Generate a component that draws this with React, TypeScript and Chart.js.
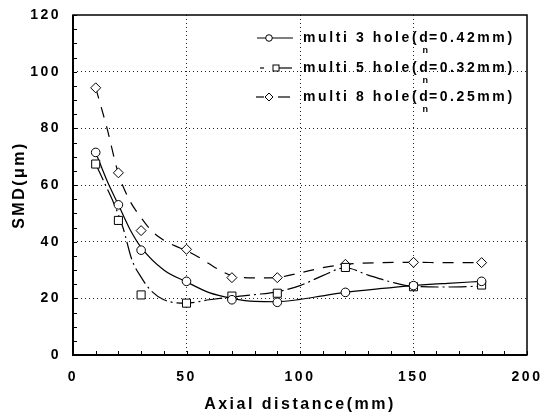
import React, { useEffect, useRef } from 'react';
import { Chart, registerables } from 'chart.js';

Chart.register(...registerables);

// Measured points (markers)
const xPoints = [10, 20, 30, 50, 70, 90, 120, 150, 180];
const hole3 = [71.5, 53, 37, 26, 19.5, 18.6, 22.1, 24.5, 26];
const hole5 = [67.4, 47.5, 21.2, 18.3, 20.8, 21.8, 30.9, 24.1, 24.7];
const hole8 = [94.3, 64.3, 43.9, 37.3, 27.3, 27.3, 32, 32.7, 32.6];

// Fitted curves
const fit3X = [10, 15, 20, 25, 30, 40, 50, 60, 70, 80, 90, 100, 110, 120, 135, 150, 165, 180];
const fit3Y = [71.5, 61.5, 53, 44.5, 38, 30, 25.8, 22, 20, 18.9, 18.8, 19.6, 20.9, 22.1, 23.4, 24.5, 25.3, 26];
const fit5X = [10, 14, 18, 22, 26, 30, 34, 40, 50, 60, 70, 80, 90, 100, 110, 120, 130, 140, 150, 165, 180];
const fit5Y = [67.4, 60.5, 53.5, 45, 33.5, 27.5, 23, 19.5, 18.3, 19.5, 20.5, 21.3, 22.3, 24.5, 28, 30.8, 28.2, 25.8, 24.2, 24, 24.3];
const fit8X = [10, 15, 20, 25, 30, 35, 40, 45, 50, 55, 60, 65, 70, 80, 90, 100, 110, 120, 135, 150, 165, 180];
const fit8Y = [94.3, 80, 64, 54.5, 48.5, 43.5, 40.5, 38.5, 36.8, 34.7, 32.2, 29.8, 28, 27.2, 27.4, 29, 30.8, 32, 32.6, 32.7, 32.6, 32.6];

const seriesNames = ['multi 3 hole(d_n=0.42mm)', 'multi 5 hole(d_n=0.32mm)', 'multi 8 hole(d_n=0.25mm)'];
const xTickLabels = [0, 50, 100, 150, 200];
const yTickLabels = [0, 20, 40, 60, 80, 100, 120];
const xGridValues = [50, 100, 150];
const yGridValues = [20, 40, 60, 80, 100];
const xMinorStep = 10;
const yMinorStep = 5;

const FONT = '"Liberation Sans", Arial, Helvetica, sans-serif';

const toXY = (xs: number[], ys: number[]) => xs.map((x, i) => ({ x, y: ys[i] }));

const spacingPlugin = {
  id: 'spacing',
  beforeDraw(chart: any) {
    (chart.ctx as any).letterSpacing = '2.5px';
  },
};

const framePlugin = {
  id: 'frame',
  afterDraw(chart: any) {
    const { ctx, chartArea: a, scales } = chart;
    ctx.save();
    (ctx as any).letterSpacing = '0px';
    ctx.strokeStyle = '#000';
    ctx.lineWidth = 1;
    ctx.setLineDash([]);
    ctx.beginPath();
    for (let v = scales.y.min; v <= scales.y.max; v += yMinorStep) {
      const y = Math.round(scales.y.getPixelForValue(v)) + 0.5;
      ctx.moveTo(a.left, y);
      ctx.lineTo(a.left + 4, y);
    }
    for (let v = scales.x.min; v <= scales.x.max; v += xMinorStep) {
      const x = Math.round(scales.x.getPixelForValue(v)) + 0.5;
      ctx.moveTo(x, a.bottom);
      ctx.lineTo(x, a.bottom - 4);
    }
    ctx.stroke();
    ctx.lineWidth = 1.5;
    ctx.strokeRect(a.left, a.top, a.right - a.left, a.bottom - a.top);
    ctx.lineWidth = 2;
    ctx.beginPath();
    ctx.moveTo(a.left, a.top);
    ctx.lineTo(a.left, a.bottom);
    ctx.lineTo(a.right, a.bottom);
    ctx.stroke();
    ctx.restore();
  },
};

const legendPlugin = {
  id: 'customLegend',
  afterDraw(chart: any) {
    const ctx = chart.ctx as CanvasRenderingContext2D;
    ctx.save();
    ctx.strokeStyle = '#000';
    ctx.fillStyle = '#000';
    ctx.lineWidth = 1.2;
    ctx.setLineDash([]);
    const rows = [38, 68, 97];
    const seg = (x1: number, x2: number, y: number) => {
      ctx.beginPath();
      ctx.moveTo(x1, y);
      ctx.lineTo(x2, y);
      ctx.stroke();
    };
    // row 1: solid + circle
    seg(257, 293, rows[0]);
    ctx.beginPath();
    ctx.arc(269, rows[0], 3.3, 0, Math.PI * 2);
    ctx.fillStyle = '#fff';
    ctx.fill();
    ctx.lineWidth = 1;
    ctx.stroke();
    // row 2: dash-dot + square
    ctx.lineWidth = 1.2;
    seg(260, 264, rows[1]);
    seg(279, 292, rows[1]);
    ctx.lineWidth = 1;
    ctx.fillStyle = '#fff';
    ctx.fillRect(273, rows[1] - 3, 6, 6);
    ctx.strokeRect(273, rows[1] - 3, 6, 6);
    // row 3: dashed + diamond
    ctx.lineWidth = 1.2;
    seg(256, 264, rows[2]);
    seg(278, 290, rows[2]);
    ctx.lineWidth = 1;
    ctx.beginPath();
    ctx.moveTo(269, rows[2] - 4);
    ctx.lineTo(273, rows[2]);
    ctx.lineTo(269, rows[2] + 4);
    ctx.lineTo(265, rows[2]);
    ctx.closePath();
    ctx.fillStyle = '#fff';
    ctx.fill();
    ctx.stroke();

    ctx.fillStyle = '#000';
    ctx.textBaseline = 'middle';
    ctx.textAlign = 'left';
    seriesNames.forEach((name, i) => {
      const [pre, post] = name.split('_n');
      const y = rows[i];
      (ctx as any).letterSpacing = '2.6px';
      ctx.font = `bold 14px ${FONT}`;
      ctx.fillText(pre, 303, y);
      const w = ctx.measureText(pre).width;
      ctx.fillText(post, 303 + w - 1.5, y);
      (ctx as any).letterSpacing = '0px';
      ctx.font = `bold 9px ${FONT}`;
      ctx.fillText('n', 303 + w - 8, y + 13);
    });
    ctx.restore();
  },
};

export default function App() {
  const ref = useRef<HTMLCanvasElement | null>(null);

  useEffect(() => {
    if (!ref.current) return;
    const markerBase = {
      type: 'line' as const,
      showLine: false,
      pointBackgroundColor: '#fff',
      pointBorderColor: '#000',
      pointBorderWidth: 1,
      order: 0,
    };
    const curveBase = {
      type: 'line' as const,
      borderColor: '#000',
      borderWidth: 1.2,
      pointRadius: 0,
      fill: false,
      cubicInterpolationMode: 'monotone' as const,
      order: 1,
    };
    const chart = new Chart(ref.current, {
      type: 'line',
      data: {
        datasets: [
          { ...markerBase, label: seriesNames[0], data: toXY(xPoints, hole3), pointStyle: 'circle', pointRadius: 4.3 },
          { ...markerBase, label: seriesNames[1], data: toXY(xPoints, hole5), pointStyle: 'rect', pointRadius: 5.7 },
          { ...markerBase, label: seriesNames[2], data: toXY(xPoints, hole8), pointStyle: 'rectRot', pointRadius: 5 },
          { ...curveBase, label: 'fit3', data: toXY(fit3X, fit3Y), borderDash: [] },
          { ...curveBase, label: 'fit5', data: toXY(fit5X, fit5Y), borderDash: [18, 4, 2, 4] },
          { ...curveBase, label: 'fit8', data: toXY(fit8X, fit8Y), borderDash: [11, 9] },
        ] as any,
      },
      options: {
        animation: false,
        responsive: false,
        layout: { autoPadding: false, padding: { left: 0, top: 15, right: 19, bottom: 0 } },
        plugins: { legend: { display: false }, tooltip: { enabled: false } },
        scales: {
          x: {
            type: 'linear',
            min: 0,
            max: 200,
            afterFit: (s: any) => {
              s.height = 62;
              s.paddingLeft = 0;
              s.paddingRight = 0;
            },
            ticks: {
              stepSize: xMinorStep,
              autoSkip: false,
              maxRotation: 0,
              padding: 14,
              color: '#000',
              font: { family: FONT, size: 14, weight: 'bold' },
              callback: (v: any) => (xTickLabels.includes(Number(v)) ? String(v) : ''),
            },
            grid: {
              color: (c: any) => (c.tick && xGridValues.includes(c.tick.value) ? '#222' : 'rgba(0,0,0,0)'),
              drawTicks: false,
              lineWidth: 1,
            },
            border: { display: false, dash: [1, 3] },
            title: {
              display: true,
              text: 'Axial distance(mm)',
              color: '#000',
              font: { family: FONT, size: 16, weight: 'bold' },
              padding: { top: 0, bottom: 3 },
            },
          },
          y: {
            type: 'linear',
            min: 0,
            max: 120,
            afterFit: (s: any) => {
              s.width = 73;
              s.paddingTop = 0;
              s.paddingBottom = 0;
            },
            ticks: {
              stepSize: yMinorStep,
              autoSkip: false,
              padding: 12,
              color: '#000',
              font: { family: FONT, size: 14, weight: 'bold' },
              callback: (v: any) => (yTickLabels.includes(Number(v)) ? String(v) : ''),
            },
            grid: {
              color: (c: any) => (c.tick && yGridValues.includes(c.tick.value) ? '#222' : 'rgba(0,0,0,0)'),
              drawTicks: false,
              lineWidth: 1,
            },
            border: { display: false, dash: [1, 3] },
            title: {
              display: true,
              text: 'SMD(μm)',
              color: '#000',
              font: { family: FONT, size: 16, weight: 'bold' },
              padding: { top: 10, bottom: 0 },
            },
          },
        },
      } as any,
      plugins: [spacingPlugin, framePlugin, legendPlugin],
    });
    return () => chart.destroy();
  }, []);

  return (
    <div style={{ position: 'fixed', left: 0, top: 0, width: 546, height: 417, background: '#fff' }}>
      <canvas ref={ref} width={546} height={417} style={{ width: 546, height: 417, display: 'block' }} />
    </div>
  );
}
